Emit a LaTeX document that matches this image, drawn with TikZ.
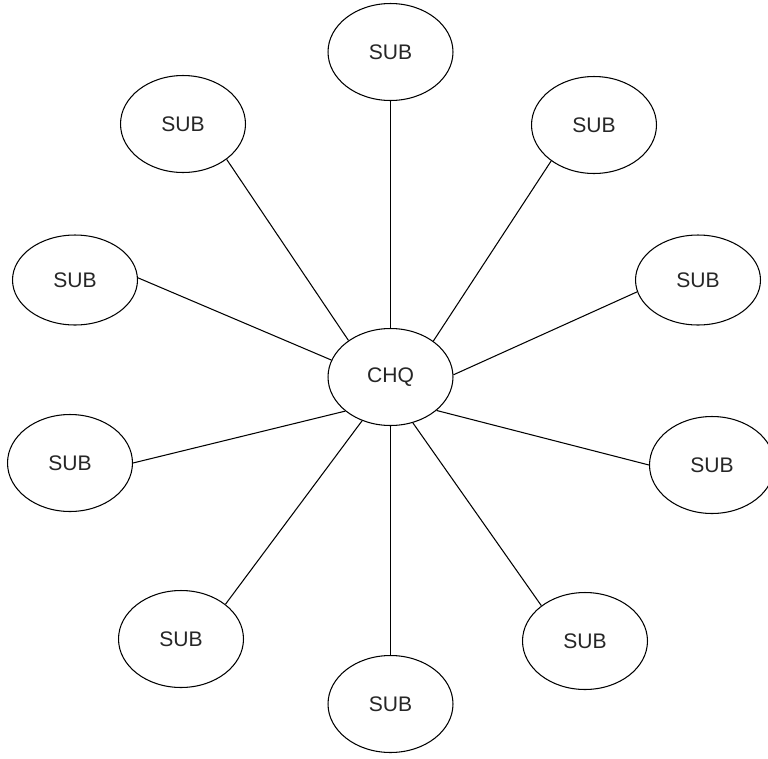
\documentclass[tikz,border=0pt]{standalone}
\usepackage{fontspec}
\setmainfont{Liberation Sans}
\usetikzlibrary{shapes.geometric}

\tikzset{
  unit/.style={ellipse, draw=black, line width=0.6pt, inner sep=0pt,
    minimum width=2.5cm, minimum height=1.94cm,
    font=\fontsize{12}{14}\selectfont, text=black!85},
  unitflat/.style={unit, minimum height=1.8cm},
  link/.style={line width=0.6pt, draw=black}
}

\begin{document}
\begin{tikzpicture}[x=0.02cm, y=-0.02cm]
  \useasboundingbox (0,0) rectangle (768,758);

  % central headquarters
  \node[unit] (chq) at (390.5,377) {CHQ};

  % subordinate units around it
  \node[unit]     (n)   at (390.5,52)  {SUB};
  \node[unit]     (nw)  at (183,124) {SUB};
  \node[unit]     (ne)  at (594,125) {SUB};
  \node[unitflat] (w)   at (75,280)  {SUB};
  \node[unitflat] (e)   at (698,280) {SUB};
  \node[unit]     (sw)  at (70,463)  {SUB};
  \node[unit]     (se)  at (712,465) {SUB};
  \node[unit]     (ssw) at (181,639) {SUB};
  \node[unit]     (sse) at (585,641) {SUB};
  \node[unit]     (s)   at (390.5,704) {SUB};

  % links from headquarters to each unit
  \draw[link] (chq.north)  -- (n.south);
  \draw[link] (chq.139.2)  -- (nw.321.3);
  \draw[link] (chq.40.6)   -- (ne.220.8);
  \draw[link] (chq.164.4)  -- (w.2.7);
  \draw[link] (chq.2.8)    -- (e.191.5);
  \draw[link] (chq.217.3)  -- (sw.0.9);
  \draw[link] (chq.324.9)  -- (se.180);
  \draw[link] (chq.237.8)  -- (ssw.38.7);
  \draw[link] (chq.296.6)  -- (sse.141.3);
  \draw[link] (chq.south)  -- (s.north);
\end{tikzpicture}
\end{document}
